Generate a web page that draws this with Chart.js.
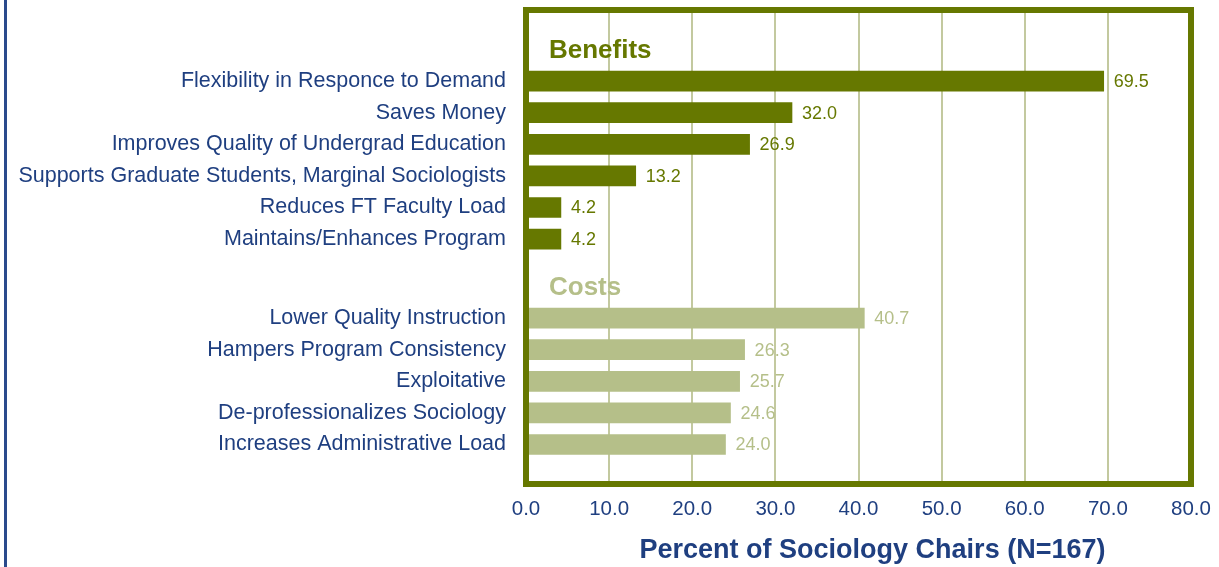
<!DOCTYPE html>
<html lang="en">
<head>
  <meta charset="UTF-8">
  <title>Benefits and costs of part-time faculty</title>
  <script src="https://cdn.jsdelivr.net/npm/chart.js"></script>
  <style>
    html, body { margin: 0; padding: 0; background: #fff; }
    #wrap { position: relative; width: 1219px; height: 567px; }
    /* blue rule down the left edge */
    #wrap::before { content: ""; position: absolute; left: 4px; top: 0; width: 3px; height: 567px; background: #2a4a8c; }
  </style>
</head>
<body>

  <div id="wrap"><canvas id="chart"></canvas></div>

  <script>
    /* Data. */
    const groupTitles = ["Benefits", "Costs"]
    const benefitLabels = [
      "Flexibility in Responce to Demand",
      "Saves Money",
      "Improves Quality of Undergrad Education",
      "Supports Graduate Students, Marginal Sociologists",
      "Reduces FT Faculty Load",
      "Maintains/Enhances Program"
    ]
    const benefitValues = [69.5, 32.0, 26.9, 13.2, 4.2, 4.2]
    const costLabels = [
      "Lower Quality Instruction",
      "Hampers Program Consistency",
      "Exploitative",
      "De-professionalizes Sociology",
      "Increases Administrative Load"
    ]
    const costValues = [40.7, 26.3, 25.7, 24.6, 24.0]
    const xTicks = [0, 10, 20, 30, 40, 50, 60, 70, 80]
    const axisTitle = "Percent of Sociology Chairs (N=167)"

    const darkGreen = "#667800"
    const paleGreen = "#b5bf89"
    const gridGreen = "#c3c99f"
    const blue = "#1f3f80"
    const font = "'Liberation Sans', Arial, sans-serif"

    /* Category slots: every bar gets a blank spacer after it, headers get their own slot. */
    const rows = ["", ""]
    rows.push(groupTitles[0], "")
    benefitLabels.forEach(l => rows.push(l, ""))
    rows.push("", groupTitles[1], "")
    costLabels.forEach(l => rows.push(l, ""))
    rows.push("")

    const benefitData = rows.map(r => benefitLabels.includes(r) ? benefitValues[benefitLabels.indexOf(r)] : null)
    const costData = rows.map(r => costLabels.includes(r) ? costValues[costLabels.indexOf(r)] : null)

    /* Frame, group headers, value labels and the axis title. */
    const decorations = {
      id: "decorations",
      afterDatasetsDraw(chart) {
        const ctx = chart.ctx
        const a = chart.chartArea
        const yScale = chart.scales.y
        ctx.save()

        /* value labels */
        ctx.font = "18px " + font
        ctx.textAlign = "left"
        ctx.textBaseline = "middle"
        chart.data.datasets.forEach((ds, i) => {
          ctx.fillStyle = ds.backgroundColor
          chart.getDatasetMeta(i).data.forEach((bar, j) => {
            const v = ds.data[j]
            if (v === null) return
            ctx.fillText(v.toFixed(1), bar.x + 10, bar.y + 1)
          })
        })

        /* group headers */
        ctx.font = "bold 26px " + font
        groupTitles.forEach((t, i) => {
          ctx.fillStyle = i === 0 ? darkGreen : paleGreen
          ctx.fillText(t, a.left + 23, yScale.getPixelForValue(rows.indexOf(t)) + 1)
        })

        /* frame */
        ctx.strokeStyle = darkGreen
        ctx.lineWidth = 6
        ctx.strokeRect(a.left, a.top, a.right - a.left, a.bottom - a.top)

        /* axis title, sits a little right of the plot centre */
        ctx.font = "bold 27px " + font
        ctx.fillStyle = blue
        ctx.textAlign = "center"
        ctx.fillText(axisTitle, (a.left + a.right) / 2 + 14, 551)
        ctx.restore()
      }
    }

    const ctx = document.getElementById("chart").getContext("2d")
    const myChart = new Chart(ctx, {
      type: "bar",
      data: {
        labels: rows,
        datasets: [{
          label: groupTitles[0],
          data: benefitData,
          backgroundColor: darkGreen,
          borderWidth: 0
        }, {
          label: groupTitles[1],
          data: costData,
          backgroundColor: paleGreen,
          borderWidth: 0
        }]
      },
      options: {
        indexAxis: "y",
        responsive: true,
        maintainAspectRatio: false,
        animation: false,
        layout: { padding: { left: 0, right: 28, top: 10, bottom: 0 } },
        datasets: { bar: { grouped: false, barThickness: 20 } },
        scales: {
          x: {
            min: 0,
            max: 80,
            afterBuildTicks: scale => { scale.ticks = xTicks.map(v => ({ value: v })) },
            afterFit: scale => {
              scale.height = 83
              scale.paddingLeft = 0
              scale.paddingRight = 0
            },
            grid: { color: gridGreen, lineWidth: 2, drawTicks: false },
            border: { display: false },
            ticks: {
              padding: 13,
              color: blue,
              font: { family: font, size: 20.5 },
              callback: v => Number(v).toFixed(1)
            }
          },
          y: {
            offset: true,
            afterFit: scale => {
              scale.width = 526
              scale.paddingTop = 0
              scale.paddingBottom = 0
            },
            grid: { display: false, drawTicks: false },
            border: { display: false },
            ticks: {
              padding: 20,
              color: blue,
              font: { family: font, size: 21.5 },
              autoSkip: false,
              callback: (v, i) => groupTitles.includes(rows[i]) ? "" : rows[i]
            }
          }
        },
        plugins: {
          legend: { display: false },
          tooltip: { enabled: false }
        }
      },
      plugins: [decorations]
    })
  </script>

</body>
</html>
